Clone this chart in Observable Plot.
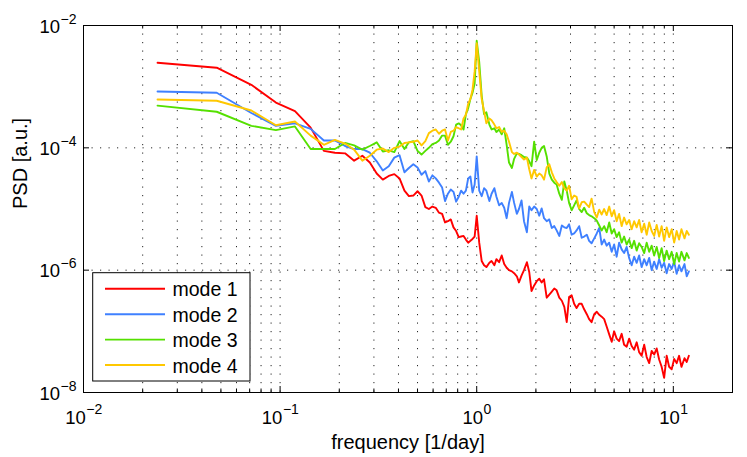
<!DOCTYPE html>
<html>
<head>
<meta charset="utf-8">
<script src="https://cdn.jsdelivr.net/npm/d3@7"></script>
<script src="https://cdn.jsdelivr.net/npm/@observablehq/plot@0.6"></script>
<style>
  body { margin: 0; background: #fff; }
  #chart svg { font-family: "Liberation Sans", Arial, Helvetica, sans-serif; }
</style>
</head>
<body>
<div id="chart"></div>
<script>
// frequency [1/day]
const freq = [0.0238,0.0476,0.0714,0.0952,0.119,0.143,0.167,0.190,0.214,0.238,
  0.262,0.286,0.310,0.333,0.357,0.381,0.405,0.429,0.452,0.476,
  0.500,0.524,0.548,0.571,0.595,0.619,0.643,0.667,0.690,0.714,
  0.738,0.762,0.786,0.810,0.833,0.857,0.881,0.905,0.929,0.952,0.976,1.000,
  1.03,1.06,1.09,1.12,1.16,1.19,1.23,1.26,1.30,1.34,
  1.38,1.42,1.46,1.51,1.55,1.60,1.64,1.69,1.74,1.80,
  1.85,1.90,1.96,2.02,2.08,2.14,2.20,2.27,2.34,2.41,
  2.48,2.55,2.63,2.71,2.79,2.87,2.95,3.04,3.13,3.22,
  3.32,3.42,3.52,3.63,3.73,3.84,3.96,4.08,4.20,4.32,
  4.45,4.58,4.72,4.86,5.00,5.15,5.30,5.46,5.62,5.79,
  5.96,6.14,6.32,6.51,6.70,6.90,7.11,7.32,7.54,7.76,
  7.99,8.23,8.47,8.72,8.98,9.25,9.52,9.81,10.1,10.4,
  10.7,11.0,11.4,11.7,12.0];

// log10 of PSD [a.u.] for each mode
const mode1 = [-2.61,-2.69,-2.97,-3.26,-3.40,-3.67,-4.05,-4.08,-4.09,-4.21,
  -4.13,-4.24,-4.42,-4.52,-4.46,-4.43,-4.50,-4.70,-4.79,-4.78,
  -4.71,-4.78,-4.97,-5.00,-4.96,-4.98,-5.06,-5.08,-5.22,-5.20,
  -5.17,-5.30,-5.36,-5.46,-5.45,-5.44,-5.50,-5.55,-5.52,-5.49,-5.45,-5.11,
  -5.55,-5.85,-5.92,-5.95,-5.88,-5.85,-5.92,-5.82,-5.87,-5.76,
  -5.90,-5.96,-6.00,-6.02,-6.05,-6.10,-6.20,-6.09,-6.00,-5.87,
  -6.03,-6.34,-6.25,-6.18,-6.14,-6.20,-6.15,-6.45,-6.40,-6.35,
  -6.30,-6.33,-6.45,-6.50,-6.60,-6.85,-6.44,-6.41,-6.55,-6.62,
  -6.55,-6.55,-6.64,-6.72,-6.80,-6.85,-6.72,-6.68,-6.73,-6.76,
  -6.80,-6.92,-7.05,-7.17,-7.00,-7.12,-7.16,-7.04,-7.22,-7.25,
  -7.12,-7.24,-7.30,-7.18,-7.34,-7.40,-7.22,-7.42,-7.52,-7.32,
  -7.38,-7.28,-7.46,-7.58,-7.76,-7.40,-7.58,-7.62,-7.45,-7.52,
  -7.40,-7.58,-7.44,-7.50,-7.40];

const mode2 = [-3.08,-3.10,-3.43,-3.64,-3.60,-3.69,-3.88,-3.88,-3.97,-4.02,
  -4.02,-4.08,-4.22,-4.37,-4.30,-4.16,-4.12,-4.40,-4.33,-4.27,
  -4.32,-4.44,-4.38,-4.55,-4.45,-4.50,-4.57,-4.65,-4.87,-4.75,
  -4.68,-4.72,-4.88,-4.80,-4.70,-4.75,-4.70,-4.50,-4.47,-4.73,-4.60,-4.14,
  -4.70,-4.79,-4.66,-4.70,-4.87,-4.75,-4.66,-4.80,-4.94,-4.90,
  -4.98,-5.15,-4.90,-4.72,-4.90,-5.08,-5.00,-4.86,-5.20,-5.38,
  -4.96,-5.02,-4.96,-5.00,-5.11,-4.99,-5.15,-5.20,-5.17,-5.31,
  -5.28,-5.35,-5.44,-5.27,-5.30,-5.31,-5.25,-5.42,-5.40,-5.35,
  -5.28,-5.47,-5.45,-5.42,-5.52,-5.56,-5.48,-5.40,-5.31,-5.58,
  -5.50,-5.60,-5.55,-5.70,-5.58,-5.78,-5.55,-5.66,-5.72,-5.62,
  -5.80,-5.92,-5.78,-5.88,-5.76,-5.95,-5.82,-5.92,-5.80,-6.00,
  -5.86,-5.98,-5.82,-5.96,-5.88,-6.05,-5.90,-5.98,-5.86,-6.06,
  -5.92,-6.02,-5.90,-6.10,-6.02];

const mode3 = [-3.31,-3.41,-3.64,-3.71,-3.65,-4.02,-4.02,-4.02,-3.92,-3.96,
  -4.03,-3.97,-3.91,-4.06,-4.04,-4.07,-3.89,-4.02,-3.91,-3.89,
  -4.05,-4.11,-4.05,-4.00,-3.94,-3.92,-3.88,-3.80,-3.80,-3.95,
  -3.90,-3.81,-3.62,-3.60,-3.63,-3.70,-3.45,-3.35,-3.20,-3.10,-2.95,-2.25,
  -2.60,-3.15,-3.45,-3.42,-3.62,-3.70,-3.68,-3.74,-3.70,-3.78,
  -3.68,-3.95,-4.24,-4.33,-4.18,-4.09,-4.10,-4.12,-4.15,-4.16,
  -4.22,-4.30,-3.90,-4.20,-4.08,-4.00,-3.97,-4.14,-4.42,-4.52,
  -4.57,-4.60,-4.75,-4.85,-4.55,-4.70,-4.90,-5.02,-4.94,-4.86,
  -5.00,-5.05,-4.98,-5.07,-5.10,-5.12,-5.15,-5.19,-5.27,-5.35,
  -5.28,-5.38,-5.22,-5.40,-5.33,-5.46,-5.38,-5.55,-5.45,-5.58,
  -5.50,-5.64,-5.52,-5.68,-5.56,-5.62,-5.72,-5.55,-5.70,-5.60,
  -5.76,-5.62,-5.80,-5.64,-5.85,-5.68,-5.82,-5.70,-5.90,-5.72,
  -5.86,-5.70,-5.84,-5.72,-5.80];

const mode4 = [-3.21,-3.23,-3.39,-3.63,-3.57,-3.80,-3.95,-3.87,-3.93,-4.03,
  -4.21,-4.13,-4.03,-4.01,-4.07,-4.00,-3.98,-3.92,-3.91,-3.90,
  -3.88,-3.96,-3.89,-3.76,-3.72,-3.70,-3.77,-3.72,-3.70,-3.88,
  -3.74,-3.72,-3.66,-3.68,-3.70,-3.52,-3.46,-3.28,-3.20,-3.05,-2.75,-2.29,
  -2.75,-3.20,-3.40,-3.60,-3.52,-3.55,-3.62,-3.68,-3.66,-3.74,
  -3.72,-3.78,-3.90,-4.07,-4.10,-4.08,-4.11,-4.15,-4.19,-4.16,
  -4.35,-4.50,-4.36,-4.47,-4.42,-4.45,-4.52,-4.32,-4.27,-4.40,
  -4.50,-4.56,-4.62,-4.56,-4.66,-4.70,-4.62,-4.84,-4.78,-4.80,
  -4.99,-4.89,-4.88,-4.93,-4.97,-4.83,-5.05,-5.14,-5.01,-5.09,
  -5.00,-5.10,-4.96,-5.12,-5.02,-5.20,-5.08,-5.28,-5.14,-5.25,
  -5.18,-5.33,-5.20,-5.30,-5.18,-5.38,-5.24,-5.42,-5.22,-5.36,
  -5.44,-5.26,-5.45,-5.28,-5.52,-5.30,-5.46,-5.33,-5.55,-5.36,
  -5.50,-5.33,-5.48,-5.36,-5.42];

const seriesNames = ["mode 1", "mode 2", "mode 3", "mode 4"];
const seriesColors = ["#ff0000", "#3f80ff", "#55e000", "#ffc800"];

const xMajorTicks = [0.01, 0.1, 1, 10];
const xTickExponents = ["\u22122", "\u22121", "0", "1"];
const xMinorTicks = [0.02,0.03,0.04,0.05,0.06,0.07,0.08,0.09,
  0.2,0.3,0.4,0.5,0.6,0.7,0.8,0.9, 2,3,4,5,6,7,8,9];
const yMajorTicks = [1e-8, 1e-6, 1e-4, 1e-2];
const yTickExponents = ["\u22128", "\u22126", "\u22124", "\u22122"];
const yGrid = [1e-6, 1e-4];

const xLabel = "frequency [1/day]";
const yLabel = "PSD [a.u.]";

// ---- build table ----
const allModes = [mode1, mode2, mode3, mode4];
const rows = [];
allModes.forEach((s, i) => s.forEach((e, j) => rows.push({f: freq[j], psd: Math.pow(10, e), mode: seriesNames[i]})));

const W = 747, H = 457;
const mL = 83, mR = 15, mT = 25, mB = 65;
const plotW = W - mL - mR, plotH = H - mT - mB;
const FONT = "Liberation Sans, Arial, Helvetica, sans-serif";
const baseSize = 18.5, expSize = 14, titleSize = 20;

const ctx = document.createElement("canvas").getContext("2d");
function textW(s, size) { ctx.font = `${size}px "Liberation Sans", Arial`; return ctx.measureText(s).width; }
const w10 = textW("10", baseSize);

const gridX = xMinorTicks.concat([0.1, 1, 10]);
const dots = {stroke: "#000", strokeWidth: 1, strokeDasharray: "1.2,7.3", strokeOpacity: 0.85};

// x tick labels: "10" + raised exponent, centred as a whole on the tick
const xLabelMarks = xMajorTicks.flatMap((v, i) => {
  const e = xTickExponents[i];
  const dx = (w10 - textW(e, expSize)) / 2;
  return [
    Plot.text([v], {x: d => d, frameAnchor: "bottom", text: () => "10", textAnchor: "end", lineAnchor: "bottom",
      dx, dy: 31.5, fontSize: baseSize, fill: "#000"}),
    Plot.text([v], {x: d => d, frameAnchor: "bottom", text: () => e, textAnchor: "start", lineAnchor: "bottom",
      dx: dx + 0.5, dy: 21.5, fontSize: expSize, fill: "#000"})
  ];
});
const yLab = yMajorTicks.map((v, i) => ({v, e: yTickExponents[i]}));

const marks = [
  Plot.ruleX(gridX, {x: d => d, ...dots}),
  Plot.ruleY(yGrid, {y: d => d, ...dots}),
  Plot.line(rows, {x: "f", y: "psd", z: "mode", stroke: "mode", strokeWidth: 1.9, strokeLinejoin: "round"}),
  // inward ticks
  Plot.tickX(xMajorTicks, {x: d => d, insetTop: plotH - 6, stroke: "#000"}),
  Plot.tickX(xMajorTicks, {x: d => d, insetBottom: plotH - 6, stroke: "#000"}),
  Plot.tickX(xMinorTicks, {x: d => d, insetTop: plotH - 3.5, stroke: "#000"}),
  Plot.tickX(xMinorTicks, {x: d => d, insetBottom: plotH - 3.5, stroke: "#000"}),
  Plot.tickY(yMajorTicks, {y: d => d, insetRight: plotW - 6, stroke: "#000"}),
  Plot.tickY(yMajorTicks, {y: d => d, insetLeft: plotW - 6, stroke: "#000"}),
  Plot.frame({stroke: "#000", strokeWidth: 1}),
  ...xLabelMarks,
  Plot.text(yLab, {y: "v", frameAnchor: "left", text: () => "10", textAnchor: "end", lineAnchor: "bottom",
    dx: -23.5, dy: 7, fontSize: baseSize, fill: "#000"}),
  Plot.text(yLab, {y: "v", frameAnchor: "left", text: "e", textAnchor: "start", lineAnchor: "bottom",
    dx: -23, dy: -2, fontSize: expSize, fill: "#000"}),
  // axis titles
  Plot.text([xLabel], {frameAnchor: "bottom", text: d => d, lineAnchor: "bottom", dy: 56.5, fontSize: titleSize, fill: "#000"}),
  Plot.text([yLabel], {frameAnchor: "left", text: d => d, rotate: -90, lineAnchor: "bottom", dx: -56.5, fontSize: titleSize, fill: "#000"})
];

const chart = Plot.plot({
  width: W, height: H,
  marginLeft: mL, marginRight: mR, marginTop: mT, marginBottom: mB,
  x: {type: "log", domain: [0.01, 20], axis: null},
  y: {type: "log", domain: [1e-8, 1e-2], axis: null},
  color: {domain: seriesNames, range: seriesColors},
  style: {fontFamily: FONT, background: "#fff", overflow: "visible"},
  marks
});

// legend inside the axes (lower-left)
const svg = d3.select(chart);
const lg = svg.append("g").attr("class", "legend").attr("text-anchor", "start");
const box = {x: 92.7, y: 272.7, w: 157.3, h: 108.3};
lg.append("rect").attr("x", box.x).attr("y", box.y).attr("width", box.w).attr("height", box.h)
  .attr("fill", "#fff").attr("stroke", "#000").attr("stroke-width", 1);
seriesNames.forEach((name, i) => {
  const cy = 288.8 + i * 25.4;
  lg.append("line").attr("x1", 105).attr("x2", 165).attr("y1", cy).attr("y2", cy)
    .attr("stroke", seriesColors[i]).attr("stroke-width", 1.9);
  lg.append("text").attr("x", 172.5).attr("y", cy + 7.6).attr("font-size", 19.5)
    .attr("text-anchor", "start").attr("font-family", FONT).attr("fill", "#000").text(name);
});

document.getElementById("chart").appendChild(chart);
</script>
</body>
</html>
